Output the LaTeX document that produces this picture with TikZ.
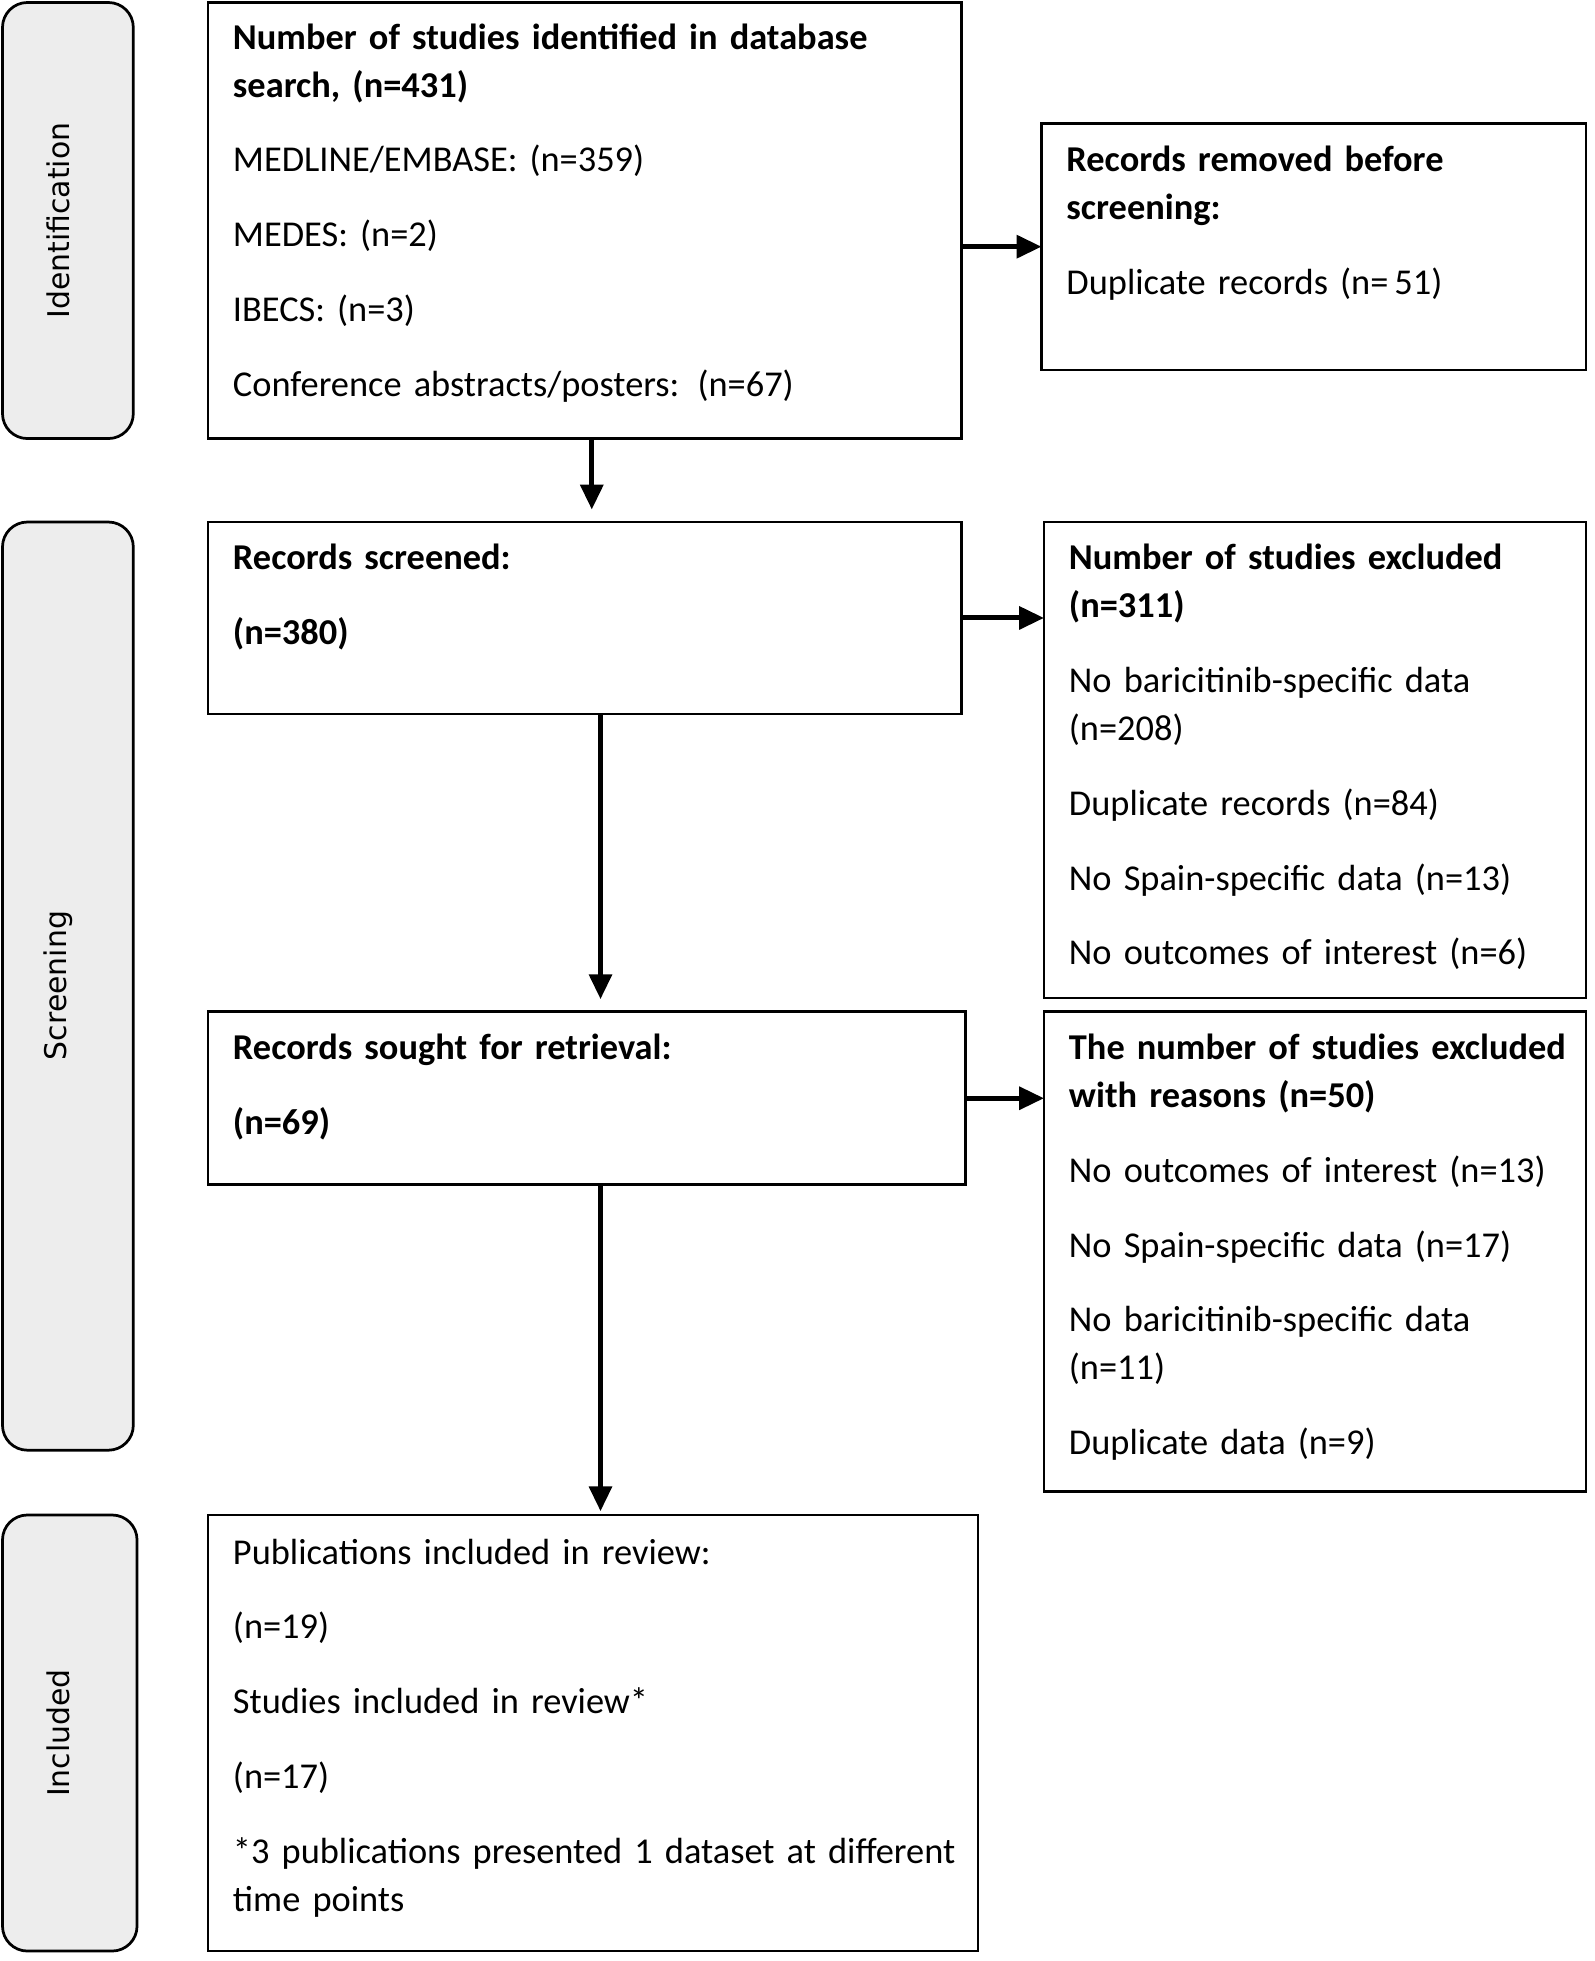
\documentclass[tikz,border=0pt]{standalone}
\usepackage{fontspec}
\setmainfont{Carlito}
\newfontfamily\sidefont{DejaVu Sans}
\usetikzlibrary{arrows.meta,calc}
\definecolor{sidegray}{HTML}{EDEDED}
\begin{document}
\begin{tikzpicture}[x=0.5pt,y=-0.5pt,
  box/.style={draw=black,line width=1.1pt,rectangle,inner sep=0pt,outer sep=0pt,anchor=north west},
  side/.style={draw=black,line width=1.1pt,fill=sidegray,rectangle,rounded corners=10pt,inner sep=0pt,outer sep=0pt,anchor=north west},
  sidelbl/.style={font=\sidefont\fontsize{12}{14}\selectfont,rotate=90,inner sep=0pt},
  txt/.style={anchor=base west,inner sep=0pt,outer sep=0pt,align=left,text width=300pt,
    font=\fontsize{14.6}{19.25}\selectfont},
  arr/.style={line width=2pt,-{Triangle[width=9pt,length=10pt]}}]
\useasboundingbox (0,0) rectangle (1280,1574);
% side boxes
\node[side,minimum width=52.5pt,minimum height=175pt] (sid) at (2,2) {};
\node[side,minimum width=52.5pt,minimum height=372.5pt] (ssc) at (2,419) {};
\node[side,minimum width=54pt,minimum height=175pt] (sin) at (2,1216) {};
\node[sidelbl] (lid) at (47,177) {Identification};
\node[sidelbl] (lsc) at (47,791) {Screening};
\node[sidelbl] (lin) at (47,1391) {Included};
% main boxes
\node[box,minimum width=302.5pt,minimum height=175pt] (b1) at (167,2) {};
\node[box,minimum width=218.5pt,minimum height=99pt] (rm) at (836,99) {};
\node[box,minimum width=302.5pt,minimum height=77pt] (sc) at (167,419) {};
\node[box,minimum width=217.5pt,minimum height=191pt] (ex) at (838,419) {};
\node[box,minimum width=304pt,minimum height=69.5pt] (so) at (167,812) {};
\node[box,minimum width=217.5pt,minimum height=192.5pt] (ex2) at (838,812) {};
\node[box,minimum width=309pt,minimum height=175pt] (inc) at (167,1216) {};
% texts
\node[txt] (t1) at (187,39.5) {\textbf{Number of studies identified in database}\\\textbf{search, (n=431)}\\[10.75pt]
MEDLINE/EMBASE: (n=359)\\[10.75pt]MEDES: (n=2)\\[10.75pt]IBECS: (n=3)\\[10.75pt]Conference abstracts/posters: (n=67)};
\node[txt] (trm) at (856,137.5) {\textbf{Records removed before}\\\textbf{screening:}\\[10.75pt]Duplicate records (n=\,51)};
\node[txt] (tsc) at (187,457.5) {\textbf{Records screened:}\\[10.75pt]\textbf{(n=380)}};
\node[txt] (tex) at (858,457.5) {\textbf{Number of studies excluded}\\\textbf{(n=311)}\\[10.75pt]No baricitinib-specific data\\(n=208)\\[10.75pt]Duplicate records (n=84)\\[10.75pt]No Spain-specific data (n=13)\\[10.75pt]No outcomes of interest (n=6)};
\node[txt] (tso) at (187,850.5) {\textbf{Records sought for retrieval:}\\[10.75pt]\textbf{(n=69)}};
\node[txt] (tex2) at (858,850.5) {\textbf{The number of studies excluded}\\\textbf{with reasons (n=50)}\\[10.75pt]No outcomes of interest (n=13)\\[10.75pt]No Spain-specific data (n=17)\\[10.75pt]No baricitinib-specific data\\(n=11)\\[10.75pt]Duplicate data (n=9)};
\node[txt] (tin) at (187,1255.5) {Publications included in review:\\[10.75pt](n=19)\\[10.75pt]Studies included in review*\\[10.75pt](n=17)\\[10.75pt]*3 publications presented 1 dataset at different\\time points};
% arrows
\coordinate (a1) at (475,409);
\coordinate (a2) at (482,802);
\coordinate (a3) at (482,1213);
\draw[arr] (b1.east |- rm.west) -- (rm.west);
\draw[arr] (sc.east) -- (sc.east -| ex.west);
\draw[arr] (so.east) -- (so.east -| ex2.west);
\draw[arr] (b1.south -| a1) -- (a1);
\draw[arr] (sc.south -| a2) -- (a2);
\draw[arr] (so.south -| a3) -- (a3);
\end{tikzpicture}
\end{document}
